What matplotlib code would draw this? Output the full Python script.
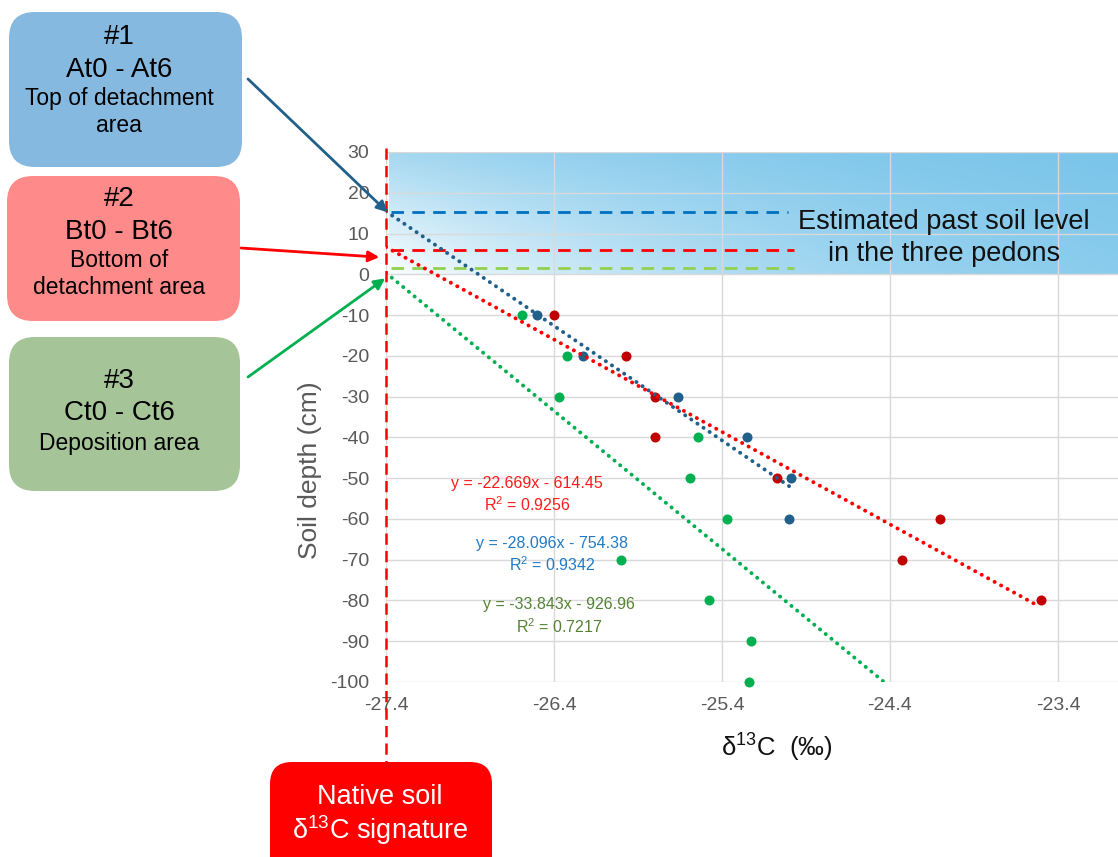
import numpy as np
import matplotlib
matplotlib.use('Agg')
import matplotlib.pyplot as plt
from matplotlib.patches import FancyBboxPatch

plt.rcParams['font.family'] = ['Liberation Sans', 'DejaVu Sans']
plt.rcParams['mathtext.fontset'] = 'custom'
plt.rcParams['mathtext.rm'] = 'Liberation Sans'
plt.rcParams['mathtext.it'] = 'Liberation Sans:italic'
plt.rcParams['mathtext.bf'] = 'Liberation Sans:bold'

# ---------------- data ----------------
depth_A = [-10, -20, -30, -40, -50, -60]
d13C_A = [-26.50, -26.23, -25.66, -25.25, -24.99, -25.00]
depth_B = [-10, -20, -30, -40, -50, -60, -70, -80]
d13C_B = [-26.40, -25.97, -25.80, -25.80, -25.07, -24.10, -24.33, -23.50]
depth_C = [-10, -20, -30, -40, -50, -60, -70, -80, -90, -100]
d13C_C = [-26.59, -26.32, -26.37, -25.54, -25.59, -25.37, -26.00, -25.48, -25.23, -25.24]

pedons = ['A', 'B', 'C']
slopes = [-28.096, -22.669, -33.843]
intercepts = [-754.38, -614.45, -926.96]
r_squared = [0.9342, 0.9256, 0.7217]
fit_x_end = [-25.00, -23.52, -24.43]
past_levels = [15.4, 6.0, 1.5]
past_level_x_end = [-25.01, -24.97, -24.97]
native_d13C = -27.4
band_bottom, band_top = 0, 30
xticks = [-27.4, -26.4, -25.4, -24.4, -23.4]
yticks = list(range(30, -101, -10))

box_titles = ['#1', '#2', '#3']
box_codes = ['At0 - At6', 'Bt0 - Bt6', 'Ct0 - Ct6']
box_desc = ['Top of detachment\narea', 'Bottom of\ndetachment area', 'Deposition area']

# ---------------- styles ----------------
pt_colors = ['#21608A', '#C00000', '#00B050']
fit_colors = ['#21608A', '#FF0000', '#00B050']
lvl_colors = ['#0070C0', '#FF0000', '#92D050']
eq_colors = ['#1F7BC8', '#FF1A1A', '#548235']
box_colors = ['#86B9E0', '#FF8A8A', '#A5C497']
arrow_colors = ['#21608A', '#FF0000', '#00B050']

W, H = 1118, 857
fig = plt.figure(figsize=(W / 100, H / 100), dpi=100)
ax_left, ax_bottom, ax_top = 386, 682, 152
ax = fig.add_axes([ax_left / W, (H - ax_bottom) / H, (W - ax_left) / W, (ax_bottom - ax_top) / H])
xmax = native_d13C + (W - ax_left) / 168.0

# gradient band
nx, ny = 300, 100
u = np.linspace(0, 1, nx)[None, :]
v = np.linspace(0, 1, ny)[:, None]
tu = 1 - np.exp(-1.7 * u)
tv = 0.62 * v
t = 1 - (1 - tu) * (1 - tv)
c0 = np.array([0.985, 0.995, 1.0])
c1 = np.array([0.44, 0.755, 0.91])
img = c0[None, None, :] * (1 - t[..., None]) + c1[None, None, :] * t[..., None]
ax.imshow(img, extent=[native_d13C + 0.02, xmax, band_bottom, band_top], aspect='auto',
          origin='lower', zorder=0, interpolation='bilinear')

ax.set_xlim(native_d13C, xmax)
ax.set_ylim(-100, 30)
ax.set_xticks(xticks)
ax.set_xticklabels([f'{v:.1f}' for v in xticks])
ax.set_yticks(yticks)
ax.set_yticklabels([str(v) for v in yticks])
for s in ax.spines.values():
    s.set_visible(False)
ax.set_axisbelow(True)
ax.grid(True, color='#D9D9D9', lw=1.0, zorder=0.5)
ax.tick_params(axis='both', length=0, labelsize=14, colors='#595959')
ax.tick_params(axis='x', pad=11)
ax.tick_params(axis='y', pad=12)
ax.set_facecolor('none')

# past soil levels
for lvl, xe, col in zip(past_levels, past_level_x_end, lvl_colors):
    ax.plot([native_d13C + 0.03, xe], [lvl, lvl], color=col, lw=2.0,
            dashes=(4.5, 3.0), zorder=2)

# points
for x, y, col in zip([d13C_A, d13C_B, d13C_C], [depth_A, depth_B, depth_C], pt_colors):
    ax.scatter(x, y, s=52, color=col, zorder=3, linewidths=0, clip_on=False)

# trend lines
for m, b, xe, col in zip(slopes, intercepts, fit_x_end, fit_colors):
    xs = np.linspace(native_d13C, xe, 300)
    ax.plot(xs, m * xs + b, color=col, lw=2.8, linestyle=(0, (0.05, 1.85)),
            dash_capstyle='round', solid_capstyle='round', zorder=4)

# native soil vertical line
ax.plot([native_d13C, native_d13C], [31, -119.7], color='#FF0000', lw=1.8,
        dashes=(4.5, 2.5), clip_on=False, zorder=5)

# equations
eq_pos = [(-26.41, -68.9), (-26.56, -54.1), (-26.37, -83.9)]
for m, b, r2, col, (ex, ey) in zip(slopes, intercepts, r_squared, eq_colors, eq_pos):
    txt = f'y = {m:.3f}x - {abs(b):.2f}\nR$^2$ = {r2:.4f}'
    ax.text(ex, ey, txt, color=col, fontsize=11.5, ha='center', va='center',
            linespacing=1.3, zorder=6)

# band label
ax.text(-24.08, 9.0, 'Estimated past soil level\nin the three pedons', fontsize=19.5,
        color='#111111', ha='center', va='center', linespacing=1.3, zorder=6)

# axis labels
fig.text(310 / W, 1 - 470 / H, 'Soil depth (cm)', rotation=90, fontsize=19,
         color='#595959', ha='center', va='center')
fig.text(777 / W, 1 - 748 / H, 'δ$^{13}$C  (‰)', fontsize=18.5, color='#111111',
         ha='center', va='center')

# left boxes (pixel positions -> inches)
inch = fig.dpi_scale_trans
box_rects = [(9, 12, 242, 167), (7, 176, 240, 321), (9, 337, 240, 491)]
title_y = [[37, 70], [199, 232], [381, 413]]
desc_y = [112, 274, 443]
for (x0, y0, x1, y1), col, tl, cd, ds, ty, dy in zip(box_rects, box_colors, box_titles,
                                                      box_codes, box_desc, title_y, desc_y):
    p = FancyBboxPatch((x0 / 100, (H - y1) / 100), (x1 - x0) / 100, (y1 - y0) / 100,
                       boxstyle='round,pad=0,rounding_size=0.26', transform=inch,
                       facecolor=col, edgecolor='none')
    fig.patches.append(p)
    fig.text(1.19, (H - ty[0]) / 100, tl, transform=inch, fontsize=20, ha='center', va='center')
    fig.text(1.19, (H - ty[1]) / 100, cd, transform=inch, fontsize=20, ha='center', va='center')
    fig.text(1.19, (H - dy) / 100, ds, transform=inch, fontsize=16.5, ha='center', va='center',
             linespacing=1.2)

# bottom box
p = FancyBboxPatch((270 / 100, -0.3), 222 / 100, (H - 762) / 100 + 0.3,
                   boxstyle='round,pad=0,rounding_size=0.22', transform=inch,
                   facecolor='#FF0000', edgecolor='none')
fig.patches.append(p)
fig.text(3.80, (H - 797) / 100, 'Native soil', transform=inch, fontsize=19.5, color='white',
         ha='center', va='center')
fig.text(3.80, (H - 830) / 100, 'δ$^{13}$C signature', transform=inch, fontsize=19.5,
         color='white', ha='center', va='center')

# arrows
arrow_start = [(248, 79), (241, 248), (248, 377)]
arrow_end = [(-27.39, 15.2), (-27.44, 4.2), (-27.405, -1.0)]
for (sx, sy), (ex, ey), col in zip(arrow_start, arrow_end, arrow_colors):
    ax.annotate('', xy=(ex, ey), xycoords='data', xytext=(sx / W, 1 - sy / H),
                textcoords='figure fraction', annotation_clip=False,
                arrowprops=dict(arrowstyle='-|>', color=col, lw=2.0, mutation_scale=16,
                                shrinkA=0, shrinkB=0), zorder=7)

fig.savefig('out.png', dpi=100)
